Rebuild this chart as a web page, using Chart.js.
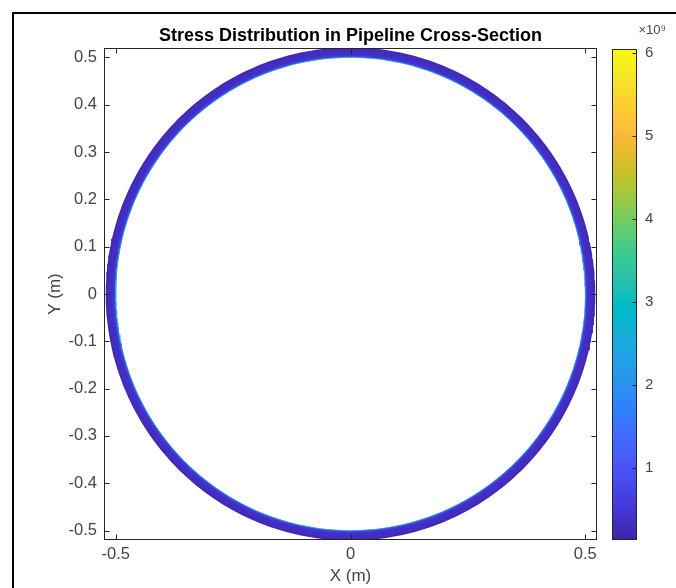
<!DOCTYPE html>
<html>
<head>
<meta charset="utf-8">
<script src="https://cdn.jsdelivr.net/npm/chart.js@4.4.1/dist/chart.umd.min.js"></script>
<style>
html, body { margin: 0; padding: 0; background: #fff; width: 676px; height: 588px; overflow: hidden; position: relative; }
#frame { position: absolute; left: 12px; top: 12px; width: 700px; height: 600px; border-top: 2px solid #000; border-left: 2px solid #000; }
#main { position: absolute; left: 0; top: 0; }
#cbar { position: absolute; left: 600px; top: 0; }
</style>
</head>
<body>
<div id="frame"></div>
<canvas id="main" width="600" height="588"></canvas>
<canvas id="cbar" width="76" height="588"></canvas>
<script>
// ring layers, inner wall -> outer wall (radius in m, stress in 1e9 Pa)
const layerRadius = [0.5003, 0.5018, 0.5035, 0.5055, 0.5075, 0.5095, 0.5115, 0.5135, 0.5155, 0.5175, 0.5193];
const layerStress = [2.6, 0.75, 0.46, 0.42, 0.40, 0.38, 0.36, 0.34, 0.32, 0.30, 0.28];
const xTicks = [-0.5, 0, 0.5];
const yTicks = [-0.5, -0.4, -0.3, -0.2, -0.1, 0, 0.1, 0.2, 0.3, 0.4, 0.5];
const cbarTicks = [1, 2, 3, 4, 5, 6];
const cLimits = [0.13, 6.05];

const FONT = '"Liberation Sans", Arial, Helvetica, sans-serif';
const TXT = '#444';
const AX = '#262626';
Chart.defaults.font.family = FONT;

// parula colormap
const parula = [
  [0.2422,0.1504,0.6603],[0.2504,0.1650,0.7076],[0.2578,0.1818,0.7511],[0.2647,0.1978,0.7952],
  [0.2706,0.2147,0.8364],[0.2751,0.2342,0.8710],[0.2783,0.2559,0.8991],[0.2803,0.2782,0.9221],
  [0.2813,0.3006,0.9414],[0.2810,0.3228,0.9579],[0.2795,0.3447,0.9717],[0.2760,0.3667,0.9829],
  [0.2699,0.3892,0.9906],[0.2602,0.4123,0.9952],[0.2440,0.4358,0.9988],[0.2206,0.4603,0.9973],
  [0.1963,0.4847,0.9892],[0.1834,0.5074,0.9798],[0.1786,0.5289,0.9682],[0.1764,0.5499,0.9520],
  [0.1687,0.5703,0.9359],[0.1540,0.5902,0.9218],[0.1460,0.6091,0.9079],[0.1380,0.6276,0.8973],
  [0.1248,0.6459,0.8883],[0.1113,0.6635,0.8763],[0.0952,0.6798,0.8598],[0.0689,0.6948,0.8394],
  [0.0297,0.7082,0.8163],[0.0036,0.7203,0.7917],[0.0067,0.7312,0.7660],[0.0433,0.7411,0.7394],
  [0.0964,0.7500,0.7120],[0.1408,0.7584,0.6842],[0.1717,0.7670,0.6554],[0.1938,0.7758,0.6251],
  [0.2161,0.7843,0.5923],[0.2470,0.7918,0.5567],[0.2906,0.7973,0.5188],[0.3406,0.8008,0.4789],
  [0.3909,0.8029,0.4354],[0.4456,0.8024,0.3909],[0.5044,0.7993,0.3480],[0.5616,0.7942,0.3045],
  [0.6174,0.7876,0.2612],[0.6720,0.7793,0.2227],[0.7242,0.7698,0.1910],[0.7738,0.7598,0.1646],
  [0.8203,0.7498,0.1535],[0.8634,0.7406,0.1596],[0.9035,0.7330,0.1774],[0.9393,0.7288,0.2100],
  [0.9728,0.7298,0.2394],[0.9956,0.7434,0.2371],[0.9970,0.7659,0.2199],[0.9952,0.7893,0.2028],
  [0.9892,0.8136,0.1885],[0.9786,0.8386,0.1766],[0.9676,0.8639,0.1643],[0.9610,0.8890,0.1537],
  [0.9597,0.9135,0.1423],[0.9628,0.9373,0.1265],[0.9691,0.9606,0.1064],[0.9769,0.9839,0.0805]
];
function rgb(c) { return 'rgb(' + c.map(v => Math.round(v * 255)).join(',') + ')'; }
function colorFor(v) {
  let t = (v - cLimits[0]) / (cLimits[1] - cLimits[0]);
  t = Math.max(0, Math.min(1, t));
  return rgb(parula[Math.min(63, Math.floor(t * 64))]);
}

const angleCount = 360;
function circle(r) {
  const pts = [];
  for (let i = 0; i <= angleCount; i++) {
    const a = i / angleCount * 2 * Math.PI;
    pts.push({ x: r * Math.cos(a), y: r * Math.sin(a) });
  }
  return pts;
}

const boxTicks = {
  id: 'boxTicks',
  afterDraw(chart) {
    const { ctx, chartArea: a, scales } = chart;
    const L = Math.round(a.left) + 0.5, R = Math.round(a.right) - 0.5;
    const T = Math.round(a.top) + 0.5, B = Math.round(a.bottom) - 0.5;
    ctx.save();
    ctx.strokeStyle = AX;
    ctx.lineWidth = 1;
    ctx.strokeRect(L, T, R - L, B - T);
    ctx.beginPath();
    scales.x.ticks.forEach(t => {
      const p = Math.round(scales.x.getPixelForValue(t.value)) + 0.5;
      ctx.moveTo(p, B); ctx.lineTo(p, B - 5);
      ctx.moveTo(p, T); ctx.lineTo(p, T + 5);
    });
    scales.y.ticks.forEach(t => {
      const p = Math.round(scales.y.getPixelForValue(t.value)) + 0.5;
      ctx.moveTo(L, p); ctx.lineTo(L + 5, p);
      ctx.moveTo(R, p); ctx.lineTo(R - 5, p);
    });
    ctx.stroke();
    ctx.restore();
  }
};

new Chart(document.getElementById('main'), {
  type: 'scatter',
  data: {
    datasets: layerRadius.map((r, i) => ({
      data: circle(r),
      showLine: true,
      pointRadius: 0,
      borderWidth: i === 0 ? 0.8 : 1.9,
      borderColor: colorFor(layerStress[i]),
      fill: false,
      tension: 0
    }))
  },
  options: {
    responsive: false,
    animation: false,
    events: [],
    layout: { padding: { left: 0, right: 3, top: 0, bottom: 0 } },
    plugins: { legend: { display: false }, tooltip: { enabled: false } },
    scales: {
      x: {
        type: 'linear', min: -0.525, max: 0.525,
        afterFit: s => { s.height = 48; s.paddingLeft = 0; s.paddingRight = 0; },
        afterBuildTicks: s => { s.ticks = xTicks.map(v => ({ value: v })); },
        grid: { display: false, drawTicks: false },
        border: { display: false },
        ticks: { padding: 5, color: TXT, font: { size: 16.5 } },
        title: { display: true, text: 'X (m)', color: TXT, font: { size: 17 }, padding: { top: 0, bottom: 1 } }
      },
      x2: {
        type: 'linear', position: 'top',
        afterFit: s => { s.height = 48; s.paddingLeft = 0; s.paddingRight = 0; },
        grid: { display: false, drawTicks: false },
        border: { display: false },
        ticks: { display: false },
        title: { display: true, text: 'Stress Distribution in Pipeline Cross-Section', color: '#000',
                 font: { size: 18, weight: 'bold' }, padding: { top: 25, bottom: 0 } }
      },
      y: {
        type: 'linear', min: -0.52, max: 0.52,
        afterFit: s => { s.width = 104; s.paddingTop = 0; s.paddingBottom = 0; },
        afterBuildTicks: s => { s.ticks = yTicks.map(v => ({ value: v })); },
        grid: { display: false, drawTicks: false },
        border: { display: false },
        ticks: { padding: 7, color: TXT, font: { size: 16.5 } },
        title: { display: true, text: 'Y (m)', color: TXT, font: { size: 17 }, padding: { top: 45, bottom: 0 } }
      }
    }
  },
  plugins: [boxTicks]
});

const cbarFrame = {
  id: 'cbarFrame',
  afterDraw(chart) {
    const { ctx, chartArea: a, scales } = chart;
    const L = Math.round(a.left) + 0.5, R = Math.round(a.right) - 0.5;
    const T = Math.round(a.top) + 0.5, B = Math.round(a.bottom) - 0.5;
    ctx.save();
    ctx.strokeStyle = AX;
    ctx.lineWidth = 1;
    ctx.strokeRect(L, T, R - L, B - T);
    ctx.beginPath();
    scales.y.ticks.forEach(t => {
      const p = Math.round(scales.y.getPixelForValue(t.value)) + 0.5;
      ctx.moveTo(R, p); ctx.lineTo(R - 4, p);
    });
    ctx.stroke();
    ctx.restore();
  }
};

new Chart(document.getElementById('cbar'), {
  type: 'bar',
  data: {
    labels: ['stress'],
    datasets: [{
      data: [cLimits],
      barPercentage: 1,
      categoryPercentage: 1,
      borderWidth: 0,
      backgroundColor: c => {
        const a = c.chart.chartArea;
        if (!a) return rgb(parula[0]);
        const g = c.chart.ctx.createLinearGradient(0, a.bottom, 0, a.top);
        parula.forEach((col, i) => g.addColorStop(i / (parula.length - 1), rgb(col)));
        return g;
      }
    }]
  },
  options: {
    responsive: false,
    animation: false,
    events: [],
    layout: { padding: { left: 12, right: 10, top: 0, bottom: 48 } },
    plugins: {
      legend: { display: false },
      tooltip: { enabled: false },
      title: { display: true, text: '×10⁹', align: 'end', color: TXT, font: { size: 13, weight: 'normal' },
               padding: { top: 23, bottom: 10.4 } }
    },
    scales: {
      x: { display: false },
      y: {
        position: 'right', min: cLimits[0], max: cLimits[1],
        afterFit: s => { s.width = 29; s.paddingTop = 0; s.paddingBottom = 0; },
        afterBuildTicks: s => { s.ticks = cbarTicks.map(v => ({ value: v })); },
        grid: { display: false, drawTicks: false },
        border: { display: false },
        ticks: { padding: 8, color: TXT, font: { size: 15 } }
      }
    }
  },
  plugins: [cbarFrame]
});
</script>
</body>
</html>
